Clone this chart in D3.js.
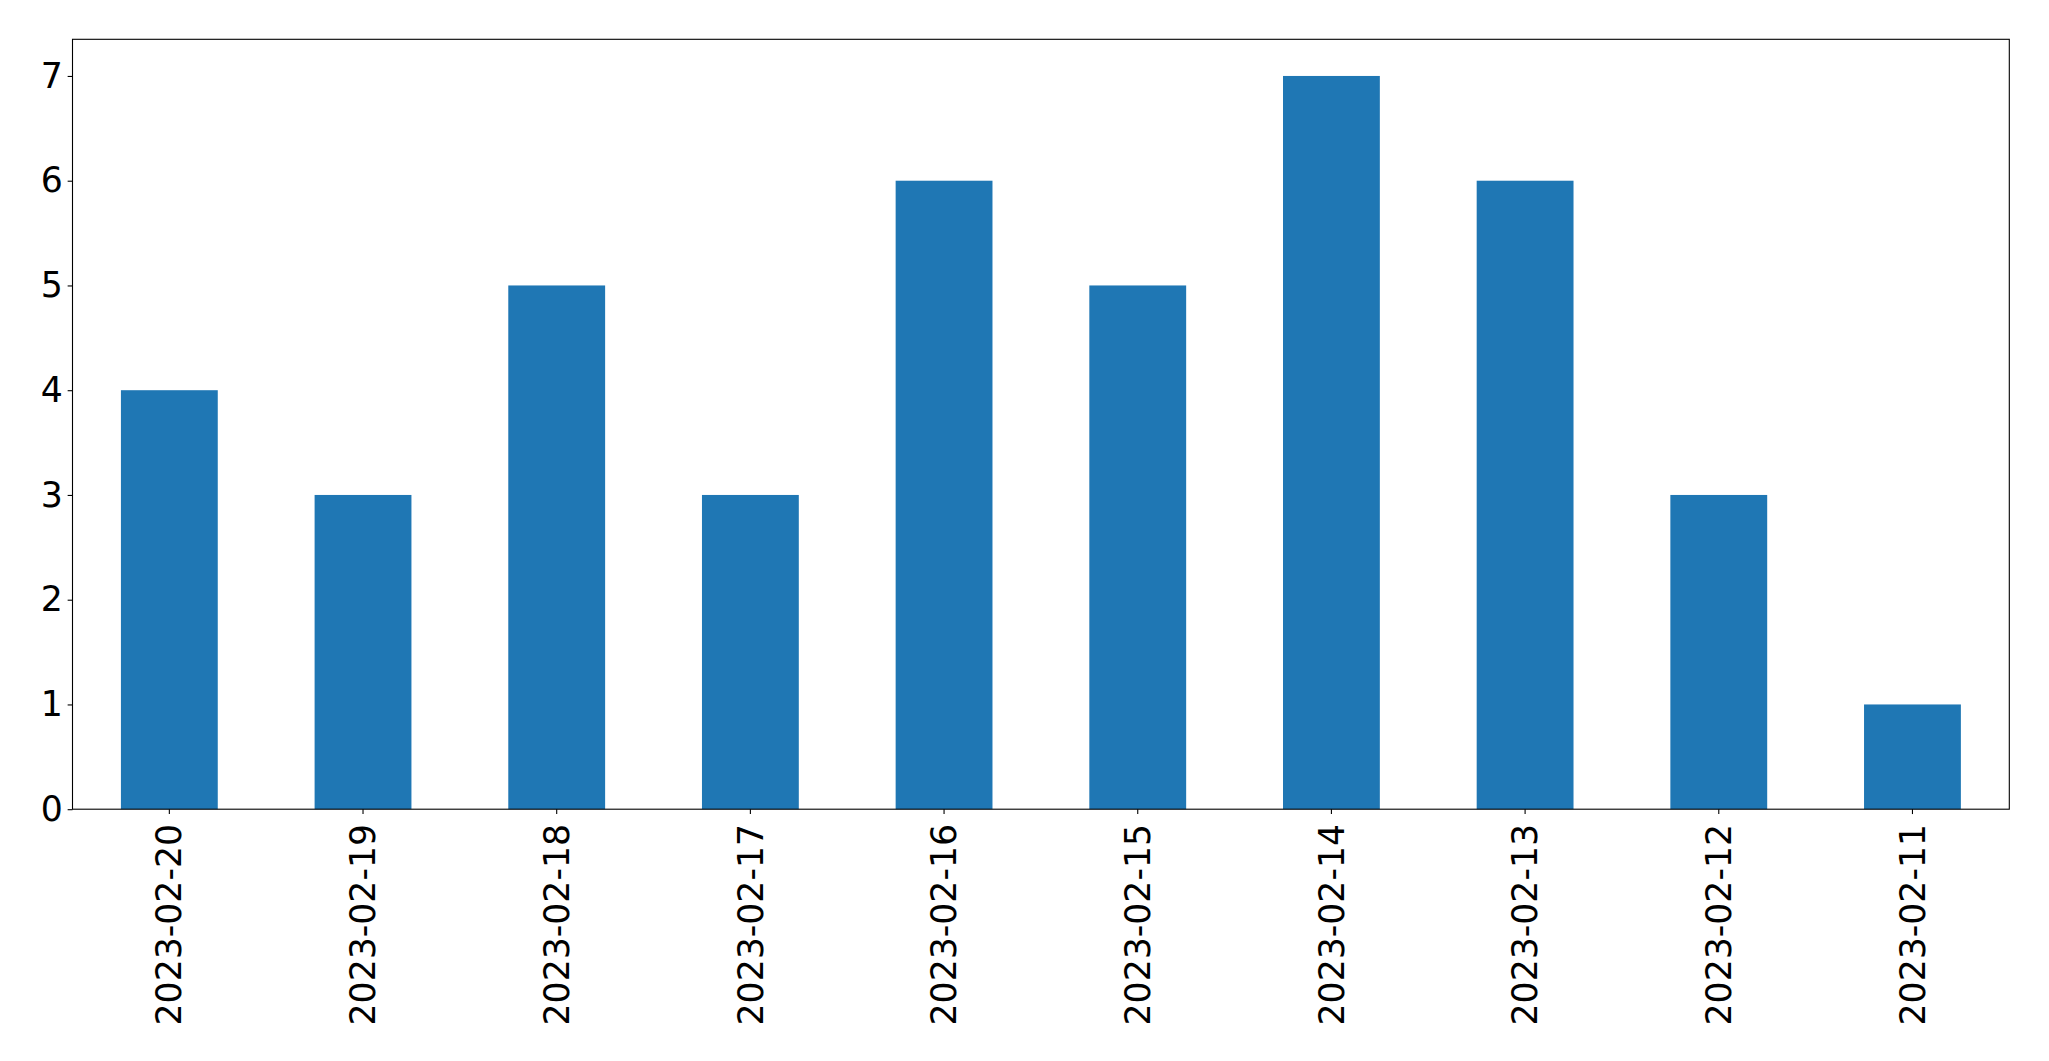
<!DOCTYPE html>
<html>
<head>
<meta charset="utf-8">
<script src="https://cdn.jsdelivr.net/npm/d3@7"></script>
<style>
  html, body { margin: 0; padding: 0; background: #fff; }
  svg { display: block; }
</style>
</head>
<body>
<script>
const categories = ["2023-02-20","2023-02-19","2023-02-18","2023-02-17","2023-02-16","2023-02-15","2023-02-14","2023-02-13","2023-02-12","2023-02-11"];
const values = [4, 3, 5, 3, 6, 5, 7, 6, 3, 1];
const yTicks = [0, 1, 2, 3, 4, 5, 6, 7];

const W = 2049, H = 1061;
const margin = {left: 72.5, right: W - 2009.3, top: 39.3, bottom: H - 809.2};
const fontSize = 34.7;
const tickLen = 4.86, tickPad = 4.86;

const svg = d3.select("body").append("svg").attr("width", W).attr("height", H);

const x = d3.scaleBand().domain(categories)
  .range([margin.left, W - margin.right])
  .paddingInner(0.5).paddingOuter(0.25);
const y = d3.scaleLinear().domain([0, 7.35]).range([H - margin.bottom, margin.top]);

svg.append("g").selectAll("rect").data(values).join("rect")
  .attr("x", (d, i) => x(categories[i]))
  .attr("width", x.bandwidth())
  .attr("y", d => y(d))
  .attr("height", d => y(0) - y(d))
  .attr("fill", "#1f77b4");

const yAxis = svg.append("g").attr("transform", `translate(${margin.left},0)`)
  .call(d3.axisLeft(y).tickValues(yTicks).tickFormat(d3.format("d")).tickSize(tickLen).tickPadding(tickPad));
const xAxis = svg.append("g").attr("transform", `translate(0,${H - margin.bottom})`)
  .call(d3.axisBottom(x).tickSize(tickLen).tickPadding(tickPad));

[yAxis, xAxis].forEach(g => {
  g.select(".domain").remove();
  g.selectAll(".tick line").attr("stroke", "#000").attr("stroke-width", 1.1);
  g.selectAll(".tick text").attr("fill", "#000")
    .style("font-family", "DejaVu Sans").style("font-size", fontSize + "px");
});

xAxis.selectAll(".tick text")
  .attr("transform", `rotate(-90)`)
  .attr("x", -(tickLen + tickPad + 5))
  .attr("y", 0)
  .attr("dy", "0.35em")
  .attr("text-anchor", "end");

svg.append("rect")
  .attr("x", margin.left).attr("y", margin.top)
  .attr("width", W - margin.left - margin.right)
  .attr("height", H - margin.top - margin.bottom)
  .attr("fill", "none").attr("stroke", "#000").attr("stroke-width", 1.1);
</script>
</body>
</html>
